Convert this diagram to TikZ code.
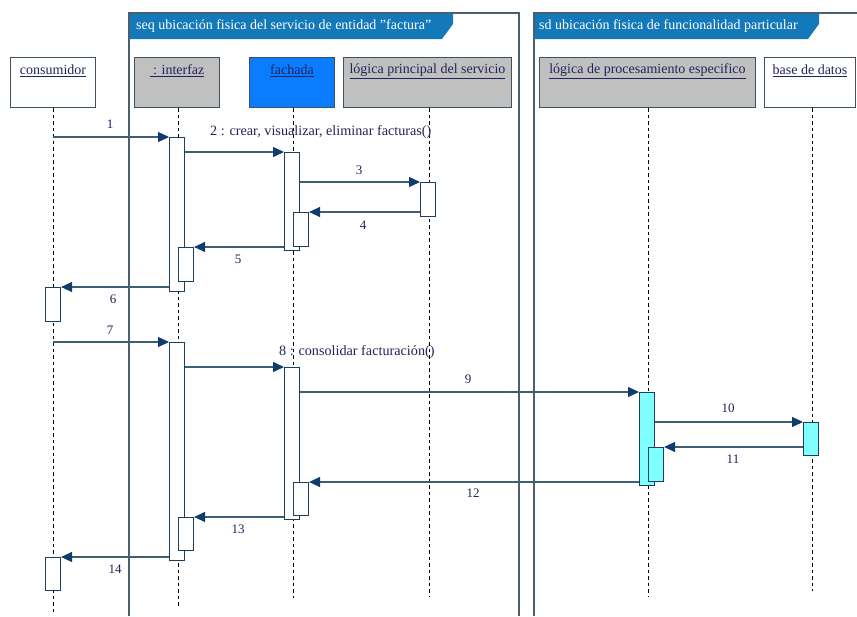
\documentclass[tikz,border=0pt]{standalone}
\usepackage{fontspec}
\setmainfont{Liberation Serif}
\usetikzlibrary{arrows.meta}

\definecolor{framec}{HTML}{4A6070}
\definecolor{tabc}{HTML}{1479B8}
\definecolor{headc}{HTML}{3A5262}
\definecolor{grayfill}{HTML}{C0C0C0}
\definecolor{facfill}{HTML}{0A7CFF}
\definecolor{cyanfill}{HTML}{80FFFF}
\definecolor{msgc}{HTML}{3E5E74}
\definecolor{tipc}{HTML}{0E3C6C}
\definecolor{txtc}{HTML}{23235A}
\definecolor{barc}{HTML}{1F3D5C}

\tikzset{
  frameline/.style={draw=framec, line width=1.5pt},
  tabshape/.style={fill=tabc, draw=none},
  tabtext/.style={text=white, anchor=west, inner sep=0pt, font=\fontsize{14}{16}\selectfont},
  head/.style={draw=headc, line width=1pt, inner sep=0pt, anchor=north west,
    minimum height=50pt},
  headtxt/.style={text=txtc, inner sep=0pt, font=\fontsize{14}{16}\selectfont},
  life/.style={draw=black, line width=0.9pt, dash pattern=on 3.5pt off 3pt},
  actbar/.style={draw=barc, line width=1.1pt, fill=white, inner sep=0pt,
    anchor=north west, minimum width=15pt},
  cyanbar/.style={actbar, fill=cyanfill},
  msg/.style={draw=msgc, line width=1.2pt,
    -{Triangle[length=11pt,width=10pt,color=tipc]}},
  num/.style={text=txtc, inner sep=0pt, font=\fontsize{13}{15}\selectfont},
  msgtxt/.style={text=txtc, inner sep=0pt, anchor=west, font=\fontsize{14.2}{16}\selectfont}
}

\begin{document}
\begin{tikzpicture}[x=1pt,y=-1pt]
\useasboundingbox (0,0) rectangle (857,616);
\fill[white] (0,0) rectangle (857,616);

% ---- frames with their name tabs ----
\fill[tabshape] (129,13) -- (453,13) -- (453,24) -- (442,39) -- (129,39) -- cycle;
\draw[frameline] (129,616) -- (129,13) -- (519,13) -- (519,616);
\node[tabtext] (seqname) at (136,26) {seq ubicación fisica del servicio de entidad {\char34}factura{\char34}};

\fill[tabshape] (534,13) -- (819,13) -- (819,24) -- (808,39) -- (534,39) -- cycle;
\draw[frameline] (534,616) -- (534,13) -- (857,13);
\node[tabtext] (sdname) at (539,26) {sd ubicación fisica de funcionalidad particular};

% ---- lifeline heads ----
\node[head, fill=white,    minimum width=85pt]  (cons) at (10,57)  {};
\node[head, fill=grayfill, minimum width=85pt]  (intf) at (134,57) {};
\node[head, fill=facfill,  minimum width=85pt]  (fach) at (249,57) {};
\node[head, fill=grayfill, minimum width=168pt] (logp) at (343,57) {};
\node[head, fill=grayfill, minimum width=216pt] (proc) at (539,57) {};
\node[head, fill=white,    minimum width=91pt]  (bdat) at (764,57) {};

\node[headtxt] (consT) at ([yshift=-14pt]cons.north) {\underline{consumidor}};
\node[headtxt] (intfT) at ([yshift=-14pt]intf.north) {\underline{\ : interfaz}};
\node[headtxt] (fachT) at ([yshift=-14pt]fach.north) {\underline{fachada}};
\node[headtxt] (logpT) at ([yshift=-14pt]logp.north) {\underline{lógica principal del servicio}};
\node[headtxt] (procT) at ([yshift=-14pt]proc.north) {\underline{lógica de procesamiento especifico}};
\node[headtxt] (bdatT) at ([yshift=-14pt]bdat.north) {\underline{base de datos}};

% ---- lifelines ----
\coordinate (consE) at (53,614);
\coordinate (intfE) at (178,606);
\coordinate (fachE) at (293,598);
\coordinate (logpE) at (429,596);
\coordinate (procE) at (648,596);
\coordinate (bdatE) at (812,591);
\draw[life] (cons.south -| consE) -- (consE);
\draw[life] (intf.south -| intfE) -- (intfE);
\draw[life] (fach.south -| fachE) -- (fachE);
\draw[life] (logp.south -| logpE) -- (logpE);
\draw[life] (proc.south -| procE) -- (procE);
\draw[life] (bdat.south -| bdatE) -- (bdatE);

% ---- activation bars ----
\node[actbar, minimum height=154pt] (i1) at (169,137) {};
\node[actbar, minimum height=218pt] (i3) at (169,342) {};
\node[actbar, minimum height=98pt]  (f1) at (284,152) {};
\node[actbar, minimum height=152pt] (f3) at (284,367) {};
\node[actbar, minimum height=34pt]  (l1) at (420,182) {};
\node[cyanbar, minimum height=93pt] (p1) at (639,392) {};
\node[cyanbar, minimum height=33pt] (d1) at (803,422) {};
% nested bars
\node[actbar, minimum height=34pt]  (i2) at (178,247) {};
\node[actbar, minimum height=33pt]  (i4) at (178,517) {};
\node[actbar, minimum height=34pt]  (f2) at (293,212) {};
\node[actbar, minimum height=33pt]  (f4) at (293,482) {};
\node[cyanbar, minimum height=34pt] (p2) at (648,447) {};
\node[actbar, minimum height=34pt]  (c1) at (45,287) {};
\node[actbar, minimum height=33pt]  (c2) at (45,557) {};

% ---- messages ----
\coordinate (m1) at (53,137);
\coordinate (m7) at (53,342);
\draw[msg] (m1) -- (i1.north west);
\draw[msg] (i1.east |- f1.north) -- (f1.north west);
\draw[msg] (f1.east |- l1.north) -- (l1.north west);
\draw[msg] (l1.west |- f2.north) -- (f2.north east);
\draw[msg] (f1.west |- i2.north) -- (i2.north east);
\draw[msg] (i1.west |- c1.north) -- (c1.north east);
\draw[msg] (m7) -- (i3.north west);
\draw[msg] (i3.east |- f3.north) -- (f3.north west);
\draw[msg] (f3.east |- p1.north) -- (p1.north west);
\draw[msg] (p1.east |- d1.north) -- (d1.north west);
\draw[msg] (d1.west |- p2.north) -- (p2.north east);
\draw[msg] (p1.west |- f4.north) -- (f4.north east);
\draw[msg] (f3.west |- i4.north) -- (i4.north east);
\draw[msg] (i3.west |- c2.north) -- (c2.north east);

% ---- message labels ----
\node[num] (n1)  at (110,124) {1};
\node[msgtxt] (n2) at (210,132) {2 : crear, visualizar, eliminar facturas()};
\node[num] (n3)  at (359,170) {3};
\node[num] (n4)  at (363,225) {4};
\node[num] (n5)  at (238,259) {5};
\node[num] (n6)  at (113,299) {6};
\node[num] (n7)  at (110,330) {7};
\node[msgtxt] (n8) at (279,352) {8 : consolidar facturación()};
\node[num] (n9)  at (468,379) {9};
\node[num] (n10) at (728,408) {10};
\node[num] (n11) at (733,459) {11};
\node[num] (n12) at (473,493) {12};
\node[num] (n13) at (238,529) {13};
\node[num] (n14) at (115,569) {14};
\end{tikzpicture}
\end{document}
